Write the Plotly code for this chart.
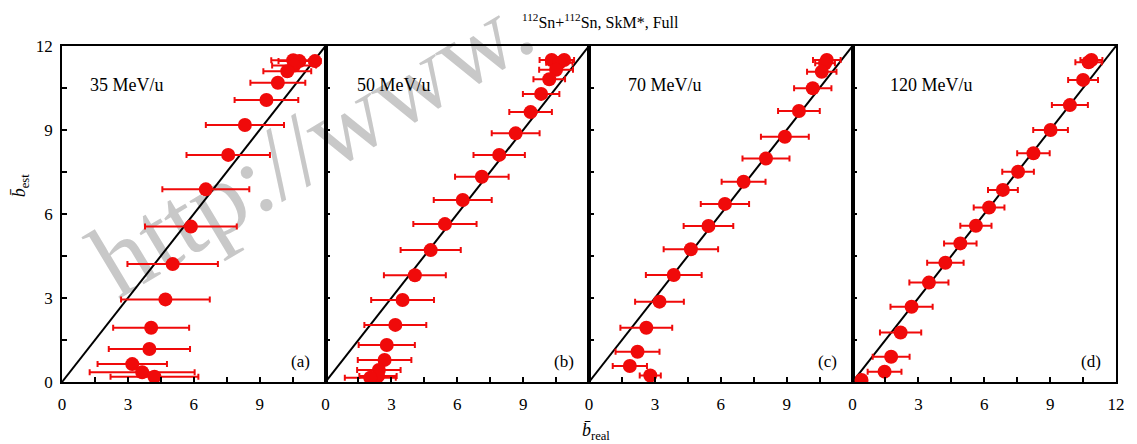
import plotly.graph_objects as go
from plotly.subplots import make_subplots

# Panel energies
energies = ["35 MeV/u", "50 MeV/u", "70 MeV/u", "120 MeV/u"]
panel_tags = ["(a)", "(b)", "(c)", "(d)"]

# 35 MeV/u
b_real_35 = [10.53, 10.81, 11.52, 10.57, 10.26, 9.83, 9.31, 8.33, 7.57, 6.55, 5.87, 5.04, 4.71, 4.06, 3.98, 3.20, 3.65, 4.21]
b_est_35 = [11.49, 11.46, 11.46, 11.30, 11.10, 10.69, 10.07, 9.18, 8.11, 6.88, 5.55, 4.21, 2.95, 1.94, 1.18, 0.64, 0.35, 0.19]
sigma_35 = [1.00, 0.95, 0.25, 1.00, 1.09, 1.25, 1.45, 1.78, 1.90, 1.98, 2.09, 2.06, 2.02, 1.73, 1.85, 1.58, 2.39, 2.00]

# 50 MeV/u
b_real_50 = [10.30, 10.87, 10.65, 10.50, 10.19, 9.82, 9.34, 8.66, 7.91, 7.12, 6.25, 5.44, 4.79, 4.07, 3.51, 3.18, 2.79, 2.69, 2.43, 2.39, 2.04]
b_est_50 = [11.50, 11.50, 11.40, 11.15, 10.81, 10.29, 9.64, 8.88, 8.11, 7.33, 6.50, 5.64, 4.71, 3.81, 2.93, 2.04, 1.32, 0.79, 0.43, 0.21, 0.15]
sigma_50 = [0.55, 0.45, 0.60, 0.77, 0.72, 0.83, 0.97, 1.09, 1.17, 1.22, 1.32, 1.44, 1.37, 1.41, 1.43, 1.41, 1.28, 1.22, 0.99, 0.85, 1.16]

# 70 MeV/u
b_real_70 = [10.83, 10.75, 10.60, 10.19, 9.56, 8.92, 8.06, 7.04, 6.19, 5.44, 4.64, 3.86, 3.21, 2.61, 2.21, 1.86, 2.79]
b_est_70 = [11.50, 11.38, 11.08, 10.49, 9.68, 8.76, 7.98, 7.15, 6.36, 5.57, 4.74, 3.82, 2.87, 1.94, 1.08, 0.57, 0.23]
sigma_70 = [0.63, 0.45, 0.67, 0.85, 0.95, 1.09, 1.07, 1.00, 1.10, 1.13, 1.24, 1.27, 1.11, 1.18, 1.00, 0.78, 0.48]

# 120 MeV/u
b_real_120 = [10.88, 10.75, 10.50, 9.90, 9.02, 8.24, 7.54, 6.85, 6.22, 5.62, 4.91, 4.23, 3.48, 2.69, 2.19, 1.76, 1.46, 0.41]
b_est_120 = [11.50, 11.42, 10.79, 9.89, 9.00, 8.17, 7.51, 6.86, 6.23, 5.58, 4.95, 4.26, 3.55, 2.69, 1.77, 0.90, 0.37, 0.07]
sigma_120 = [0.50, 0.60, 0.68, 0.82, 0.79, 0.74, 0.72, 0.68, 0.70, 0.71, 0.74, 0.83, 0.89, 0.96, 0.94, 0.84, 0.77, 0.20]

# Axis ticks
tick_vals = [0, 1.5, 3, 4.5, 6, 7.5, 9, 10.5, 12]
tick_text_inner = ["0", "", "3", "", "6", "", "9", "", ""]
tick_text_last = ["0", "", "3", "", "6", "", "9", "", "12"]
y_tick_text = ["0", "", "3", "", "6", "", "9", "", "12"]

panels = [
    (b_real_35, b_est_35, sigma_35),
    (b_real_50, b_est_50, sigma_50),
    (b_real_70, b_est_70, sigma_70),
    (b_real_120, b_est_120, sigma_120),
]

FONT = "Liberation Serif"
RED = "#f00a0a"

W, H = 1137, 444
L, R, T, B = 62, 13, 46, 62
PW, PH = W - L - R, H - T - B


def px_x(px):
    return (px - L) / PW


def px_y(py):
    return (H - B - py) / PH


fig = make_subplots(rows=1, cols=4, horizontal_spacing=0)

for i, (xs, ys, sig) in enumerate(panels):
    col = i + 1
    # diagonal reference line b_est = b_real
    fig.add_trace(
        go.Scatter(x=[0, 12], y=[0, 12], mode="lines",
                   line=dict(color="black", width=2), showlegend=False,
                   hoverinfo="skip"),
        row=1, col=col,
    )
    fig.add_trace(
        go.Scatter(
            x=xs, y=ys, mode="markers",
            marker=dict(color=RED, size=14, line=dict(width=0)),
            error_x=dict(type="data", array=sig, visible=True,
                         color=RED, thickness=2, width=3),
            showlegend=False,
        ),
        row=1, col=col,
    )
    fig.update_xaxes(
        range=[0, 12], tickvals=tick_vals,
        ticktext=tick_text_last if col == 4 else tick_text_inner,
        ticks="inside", ticklen=5, tickwidth=1.5, tickcolor="black",
        showline=True, linecolor="black", linewidth=1.5, mirror=True,
        showgrid=False, zeroline=False, ticklabelstandoff=6,
        tickfont=dict(family=FONT, size=17, color="black"),
        row=1, col=col,
    )
    fig.update_yaxes(
        range=[0, 12], tickvals=tick_vals, ticktext=y_tick_text,
        showticklabels=(col == 1),
        ticks="inside", ticklen=5, tickwidth=1.5, tickcolor="black",
        showline=True, linecolor="black", linewidth=1.5, mirror=True,
        showgrid=False, zeroline=False, ticklabelstandoff=4,
        tickfont=dict(family=FONT, size=17, color="black"),
        row=1, col=col,
    )

# energy labels and panel tags
energy_x = [1.18, 1.35, 1.7, 1.6]
for i in range(4):
    xref = "x" if i == 0 else f"x{i + 1}"
    yref = "y" if i == 0 else f"y{i + 1}"
    fig.add_annotation(x=energy_x[i], y=10.6, xref=xref, yref=yref,
                       text=energies[i], showarrow=False, xanchor="left",
                       yanchor="middle",
                       font=dict(family=FONT, size=18, color="black"))
    fig.add_annotation(x=11.4, y=0.72, xref=xref, yref=yref,
                       text=panel_tags[i], showarrow=False, xanchor="right",
                       yanchor="middle",
                       font=dict(family=FONT, size=17, color="black"))

# watermark, kept underneath the data marks
cx, cy = px_x(307), px_y(133)
fig.add_shape(
    type="rect", xref="paper", yref="paper",
    x0=cx - 0.01, x1=cx + 0.01, y0=cy - 0.01, y1=cy + 0.01,
    line=dict(width=0), fillcolor="rgba(0,0,0,0)", layer="below",
    label=dict(text="http://www.", textangle=-31,
               textposition="middle center",
               font=dict(family=FONT, size=104, color="#c8c8c8")),
)

# title
fig.add_annotation(x=px_x(605), y=px_y(21), xref="paper", yref="paper",
                   text="<sup>112</sup>Sn+<sup>112</sup>Sn, SkM*, Full",
                   showarrow=False, xanchor="center", yanchor="middle",
                   font=dict(family=FONT, size=16, color="black"))

# axis titles
fig.add_annotation(x=px_x(600), y=px_y(431), xref="paper", yref="paper",
                   text="<i>b\u0304</i><sub>real</sub>",
                   showarrow=False, xanchor="center", yanchor="middle",
                   font=dict(family=FONT, size=18, color="black"))
fig.add_annotation(x=px_x(20), y=px_y(186), xref="paper", yref="paper",
                   text="<i>b\u0304</i><sub>est</sub>", textangle=-90,
                   showarrow=False, xanchor="center", yanchor="middle",
                   font=dict(family=FONT, size=18, color="black"))

fig.update_layout(
    width=W, height=H,
    margin=dict(l=L, r=R, t=T, b=B),
    paper_bgcolor="white", plot_bgcolor="rgba(0,0,0,0)",
    font=dict(family=FONT),
)

fig.write_html("out.html")
